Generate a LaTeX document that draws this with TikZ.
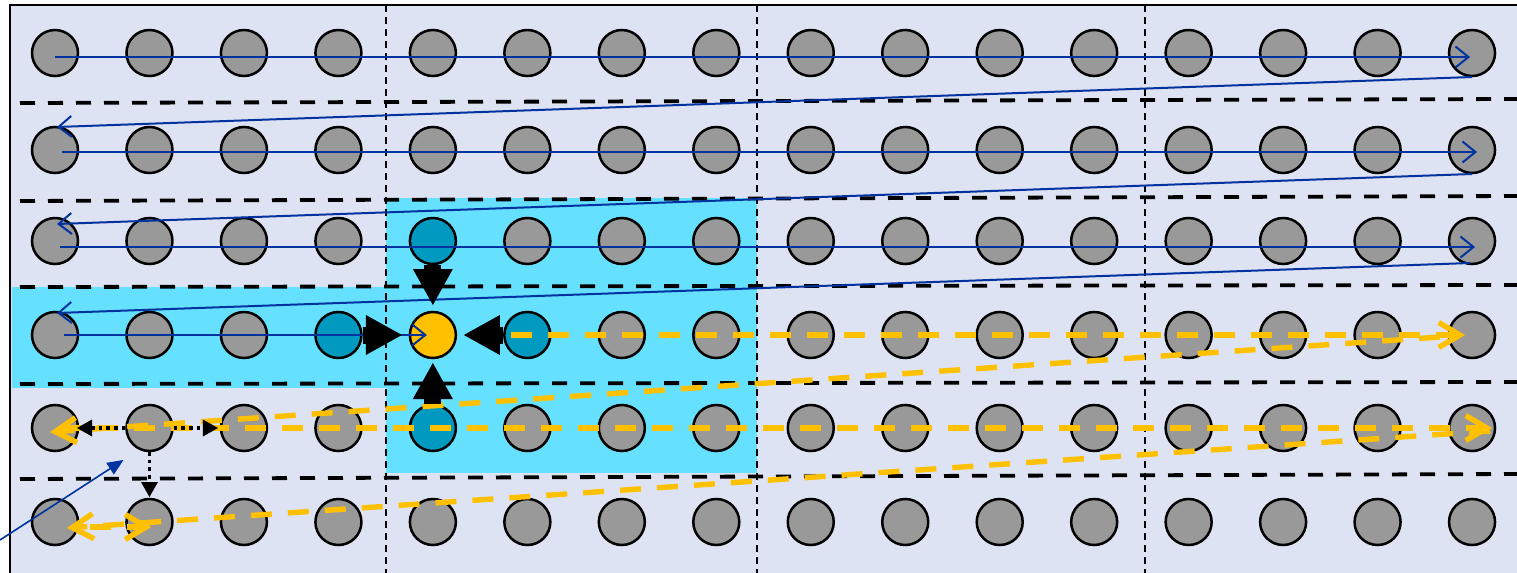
\documentclass[tikz,border=0pt]{standalone}
\usetikzlibrary{arrows.meta,calc}
\definecolor{bgc}{HTML}{DEE3F3}
\definecolor{cyanc}{HTML}{66E0FF}
\definecolor{grayc}{HTML}{999999}
\definecolor{tealc}{HTML}{0099C0}
\definecolor{yelc}{HTML}{FFC000}
\definecolor{bluec}{HTML}{0033A0}
\tikzset{
  dot/.style={circle,draw=black,line width=1.25pt,inner sep=0pt,minimum size=23pt,fill=grayc},
  hdash/.style={line width=1.9pt,dash pattern=on 7.5pt off 6.5pt},
  vdash/.style={line width=0.9pt,dash pattern=on 3.5pt off 2.5pt},
  bl/.style={draw=bluec,line width=1pt,-{Straight Barb[length=6.5pt,width=10.5pt]}},
  yl/.style={draw=yelc,line width=2.7pt,dash pattern=on 10.5pt off 8pt,-{Straight Barb[length=10.5pt,width=12.5pt]}},
  dotarr/.style={line width=1.8pt,dash pattern=on 1.8pt off 2pt,-{Triangle[length=7.5pt,width=8.5pt,line width=0pt]}},
  bigarr/.style={line width=8.5pt,-{Triangle[length=18pt,width=20pt,line width=0pt]}},
  blsolid/.style={draw=bluec,line width=0.8pt,-{Triangle[length=8pt,width=7pt,line width=0pt]}}
}
\begin{document}
\begin{tikzpicture}[x=0.5pt,y=-0.5pt]
\useasboundingbox (0,0) rectangle (1517,573);
\fill[bgc] (10,5) rectangle (1530,580);
\fill[cyanc] (386,198) rectangle (757,473);
\fill[cyanc] (12,287) rectangle (386,388);
\draw[line width=1.3pt] (10,580) -- (10,5) -- (1530,5);
\foreach \a/\b in {103/99,201/196,287/285,384/382,479/474}
  \draw[hdash] (20,\a) -- (1517,\b);
\foreach \x in {386,757,1145}
  \draw[vdash] (\x,5) -- (\x,573);
\foreach \r/\y in {0/53,1/150,2/241,3/335,4/428,5/522}
  \foreach \c in {0,...,15} {
    \def\fc{grayc}
    \ifnum\r=2 \ifnum\c=4 \def\fc{tealc}\fi\fi
    \ifnum\r=4 \ifnum\c=4 \def\fc{tealc}\fi\fi
    \ifnum\r=3 \ifnum\c=3 \def\fc{tealc}\fi\fi
    \ifnum\r=3 \ifnum\c=5 \def\fc{tealc}\fi\fi
    \ifnum\r=3 \ifnum\c=4 \def\fc{yelc}\fi\fi
    \node[dot,fill=\fc] (n\r-\c) at ({55+94.47*\c},\y) {};
  }
% blue scan
\draw[bl] ($(n0-0)+(0,4)$) -- ($(n0-15)+(-2,4)$);
\draw[bl] ($(n0-15)+(0,24)$) -- ($(n1-0)+(2,-23)$);
\draw[bl] ($(n1-0)+(7,2)$) -- ($(n1-15)+(5,2)$);
\draw[bl] ($(n1-15)+(0,24)$) -- ($(n2-0)+(2,-17)$);
\draw[bl] ($(n2-0)+(5,6)$) -- ($(n2-15)+(3,6)$);
\draw[bl] ($(n2-15)+(-2,22)$) -- ($(n3-0)+(2,-22)$);
\draw[bl] ($(n3-0)+(9,0)$) -- ($(n3-4)+(-6,0)$);
% yellow scan
\draw[yl] ($(n3-4)+(41,0)$) -- ($(n3-15)+(-7,0)$);
\draw[yl] ($(n3-15)+(-32,2)$) -- ($(n4-0)+(-5,4)$);
\draw[yl] ($(n4-0)+(5,0)$) -- ($(n4-15)+(20,0)$);
\draw[yl] ($(n4-15)+(18,3)$) -- ($(n5-0)+(12,6)$);
\draw[yl] ($(n5-0)+(35,5)$) -- ($(n5-1)+(2,5)$);
% black dotted
\draw[dotarr] (n4-1.west) -- ($(n4-0)+(22,0)$);
\draw[dotarr] (n4-1.east) -- ($(n4-2)+(-26,0)$);
\draw[dotarr] (n4-1.south) -- ($(n5-1)+(0,-25)$);
% big black arrows
\draw[bigarr] (n2-4.south) -- ($(n3-4)+(0,-30)$);
\draw[bigarr] (n3-3.east) -- ($(n3-4)+(-31,0)$);
\draw[bigarr] (n3-5.west) -- ($(n3-4)+(31,0)$);
\draw[bigarr] (n4-4.north) -- ($(n3-4)+(0,28)$);
% blue incoming
\coordinate (bstart) at (0,540);
\draw[blsolid] (bstart) -- ($(n4-1)+(-26,32)$);
\end{tikzpicture}
\end{document}
